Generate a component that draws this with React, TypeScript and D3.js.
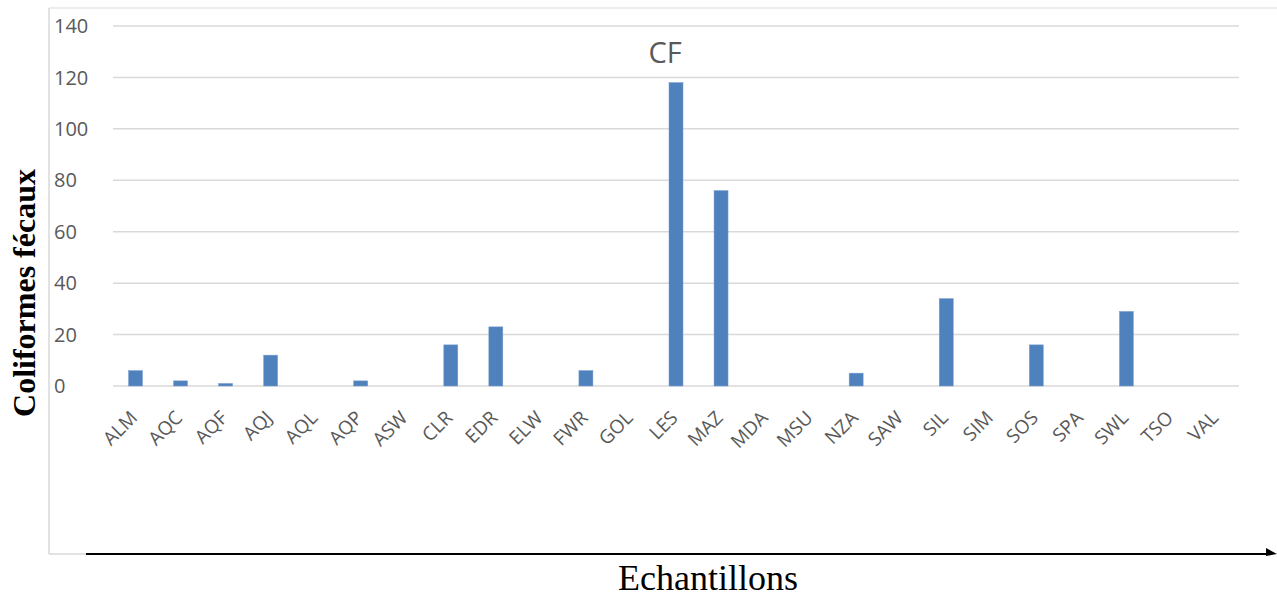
import React from "react";
import * as d3 from "d3";

const categories = ["ALM","AQC","AQF","AQJ","AQL","AQP","ASW","CLR","EDR","ELW","FWR","GOL","LES","MAZ","MDA","MSU","NZA","SAW","SIL","SIM","SOS","SPA","SWL","TSO","VAL"];
const values = [6,2,1,12,0,2,0,16,23,0,6,0,118,76,0,0,5,0,34,0,16,0,29,0,0];
const yTicks = [0,20,40,60,80,100,120,140];
const title = "CF";
const yLabel = "Coliformes fécaux";
const xLabel = "Echantillons";

export default function App() {
  const W = 1277, H = 599;
  const x = d3.scaleBand<string>().domain(categories).range([113, 1239]);
  const y = d3.scaleLinear().domain([0, 140]).range([386, 26]);
  const font = "'Open Sans', 'Liberation Sans', sans-serif";
  const serif = "'Liberation Serif', 'DejaVu Serif', serif";
  const grey = "#595959";
  return (
    <svg width={W} height={H} style={{ position: "absolute", left: 0, top: 0, background: "#fff" }}>
      {/* chart frame */}
      <line x1={49} y1={8} x2={W} y2={8} stroke="#d9d9d9" strokeWidth={1} />
      <line x1={49} y1={8} x2={49} y2={554} stroke="#d9d9d9" strokeWidth={1.5} />
      <line x1={49} y1={554} x2={86} y2={554} stroke="#d9d9d9" strokeWidth={1.5} />
      {/* gridlines */}
      {yTicks.map(t => (
        <line key={t} x1={113} x2={1239} y1={y(t)} y2={y(t)} stroke="#d9d9d9" strokeWidth={1.5} />
      ))}
      {yTicks.map(t => (
        <text key={"l" + t} x={54} y={y(t)} dy="0.36em" fontFamily={font} fontSize={20} fill={grey}>{t}</text>
      ))}
      {/* bars */}
      {categories.map((c, i) => {
        const cx = (x(c) as number) + x.bandwidth() / 2;
        const v = values[i];
        if (v <= 0) return null;
        return (
          <rect key={c} x={cx - 7} width={14} y={y(v)} height={y(0) - y(v)} fill="#4f81bd" stroke="#7a9fd0" strokeWidth={0.5} />
        );
      })}
      {/* x labels */}
      {categories.map(c => {
        const cx = (x(c) as number) + x.bandwidth() / 2;
        return (
          <text key={"x" + c} transform={`translate(${cx + 3},${419}) rotate(-45)`} textAnchor="end"
            fontFamily={font} fontSize={19} fill={grey}>{c}</text>
        );
      })}
      {/* title */}
      <text x={665} y={63} textAnchor="middle" fontFamily={font} fontSize={29} fill={grey}>{title}</text>
      {/* y axis label */}
      <text transform={`translate(35,293) rotate(-90)`} textAnchor="middle" fontFamily={serif}
        fontWeight="bold" fontSize={32} fill="#000">{yLabel}</text>
      {/* arrow axis */}
      <line x1={86} y1={554} x2={1268} y2={554} stroke="#000" strokeWidth={2} />
      <path d="M1266,548 L1277,554 L1266,556 Z" fill="#000" />
      <text x={708} y={590} textAnchor="middle" fontFamily={serif} fontSize={36} fill="#000">{xLabel}</text>
    </svg>
  );
}
